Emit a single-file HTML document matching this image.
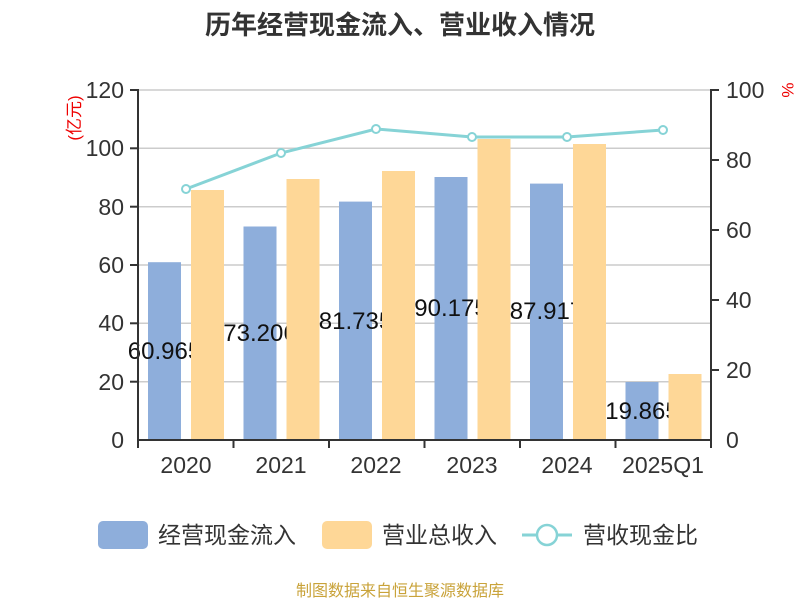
<!DOCTYPE html>
<html><head><meta charset="utf-8"><style>
body{margin:0;background:#fff;}
svg text{font-family:"Liberation Sans","Noto Sans CJK SC",sans-serif;}
</style></head><body>
<svg width="800" height="600" viewBox="0 0 800 600" xmlns="http://www.w3.org/2000/svg">
<text x="400" y="34" text-anchor="middle" font-size="26" font-weight="bold" fill="#333">历年经营现金流入、营业收入情况</text>
<g stroke="#ccc" stroke-width="1.5">
<line x1="138" y1="90" x2="711" y2="90"/><line x1="138" y1="148.3" x2="711" y2="148.3"/>
<line x1="138" y1="206.7" x2="711" y2="206.7"/><line x1="138" y1="265" x2="711" y2="265"/>
<line x1="138" y1="323.3" x2="711" y2="323.3"/><line x1="138" y1="381.7" x2="711" y2="381.7"/>
</g>
<g fill="#333" font-size="23" text-anchor="end">
<text x="124" y="98">120</text><text x="124" y="156">100</text><text x="124" y="215">80</text>
<text x="124" y="273">60</text><text x="124" y="331">40</text><text x="124" y="390">20</text><text x="124" y="448">0</text>
</g>
<g fill="#333" font-size="23">
<text x="726" y="98">100</text><text x="726" y="168">80</text><text x="726" y="238">60</text>
<text x="726" y="308">40</text><text x="726" y="378">20</text><text x="726" y="448">0</text>
</g>
<text transform="translate(80,118) rotate(-90)" font-size="17" fill="#e00" text-anchor="middle">(亿元)</text>
<text transform="translate(782,90) rotate(90)" font-size="17" fill="#e00" text-anchor="middle">%</text>
<g fill="#8eaedb">
<rect x="148" y="262.2" width="33" height="177.8"/>
<rect x="243.5" y="226.5" width="33" height="213.5"/>
<rect x="339" y="201.6" width="33" height="238.4"/>
<rect x="434.5" y="177" width="33" height="263"/>
<rect x="530" y="183.6" width="33" height="256.4"/>
<rect x="625.5" y="382" width="33" height="58"/>
</g>
<g fill="#111" font-size="24" text-anchor="middle">
<text x="164.5" y="359">60.965</text>
<text x="260" y="341">73.206</text>
<text x="355.5" y="329">81.735</text>
<text x="451" y="316">90.175</text>
<text x="546.5" y="319">87.917</text>
<text x="642" y="419">19.865</text>
</g>
<g fill="#fed797">
<rect x="191" y="190" width="33" height="250"/>
<rect x="286.5" y="179" width="33" height="261"/>
<rect x="382" y="171" width="33" height="269"/>
<rect x="477.5" y="139" width="33" height="301"/>
<rect x="573" y="144" width="33" height="296"/>
<rect x="668.5" y="374" width="33" height="66"/>
</g>
<g stroke="#333" stroke-width="2" fill="none">
<line x1="138" y1="89" x2="138" y2="441"/><line x1="711" y1="89" x2="711" y2="441"/>
<line x1="137" y1="440" x2="712" y2="440"/>
<line x1="130" y1="90" x2="138" y2="90"/><line x1="130" y1="148.3" x2="138" y2="148.3"/><line x1="130" y1="206.7" x2="138" y2="206.7"/>
<line x1="130" y1="265" x2="138" y2="265"/><line x1="130" y1="323.3" x2="138" y2="323.3"/><line x1="130" y1="381.7" x2="138" y2="381.7"/>
<line x1="711" y1="90" x2="719" y2="90"/><line x1="711" y1="160" x2="719" y2="160"/><line x1="711" y1="230" x2="719" y2="230"/>
<line x1="711" y1="300" x2="719" y2="300"/><line x1="711" y1="370" x2="719" y2="370"/>
<line x1="138" y1="440" x2="138" y2="448"/><line x1="233.5" y1="440" x2="233.5" y2="448"/><line x1="329" y1="440" x2="329" y2="448"/>
<line x1="424.5" y1="440" x2="424.5" y2="448"/><line x1="520" y1="440" x2="520" y2="448"/><line x1="615.5" y1="440" x2="615.5" y2="448"/><line x1="711" y1="440" x2="711" y2="448"/>
</g>
<g fill="#333" font-size="23" text-anchor="middle">
<text x="186" y="473">2020</text><text x="281" y="473">2021</text><text x="376" y="473">2022</text>
<text x="472" y="473">2023</text><text x="567" y="473">2024</text><text x="663" y="473">2025Q1</text>
</g>
<polyline points="186,189 281,153 376,129 472,137 567,137 663,130" fill="none" stroke="#86d3d6" stroke-width="3"/>
<g fill="#fff" stroke="#86d3d6" stroke-width="2">
<circle cx="186" cy="189" r="4"/><circle cx="281" cy="153" r="4"/><circle cx="376" cy="129" r="4"/>
<circle cx="472" cy="137" r="4"/><circle cx="567" cy="137" r="4"/><circle cx="663" cy="130" r="4"/>
</g>
<rect x="98" y="521" width="50" height="28" rx="5" fill="#8eaedb"/>
<text x="158" y="543" font-size="23" fill="#333">经营现金流入</text>
<rect x="322" y="521" width="50" height="28" rx="5" fill="#fed797"/>
<text x="382" y="543" font-size="23" fill="#333">营业总收入</text>
<line x1="522" y1="535" x2="572" y2="535" stroke="#86d3d6" stroke-width="3"/>
<circle cx="547" cy="535" r="10" fill="#fff" stroke="#86d3d6" stroke-width="2.5"/>
<text x="583" y="543" font-size="23" fill="#333">营收现金比</text>
<text x="400" y="596" font-size="16" fill="#c9a33a" text-anchor="middle">制图数据来自恒生聚源数据库</text>
</svg>
</body></html>
